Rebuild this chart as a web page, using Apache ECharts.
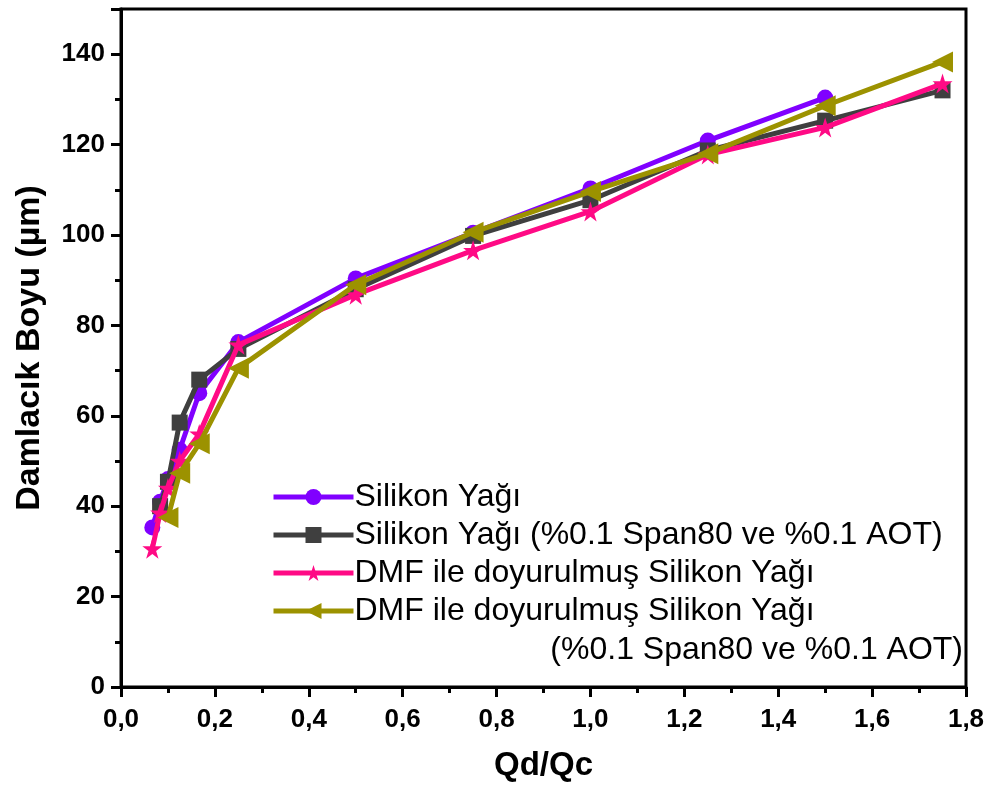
<!DOCTYPE html>
<html>
<head>
<meta charset="utf-8">
<script src="https://cdn.jsdelivr.net/npm/echarts@6/dist/echarts.min.js"></script>
<style>
html,body{margin:0;padding:0;background:#fff;}
#chart{width:990px;height:787px;}
</style>
</head>
<body>
<div id="chart"></div>
<script>
// ---- data ----
const seriesNames = [
  "Silikon Yağı",
  "Silikon Yağı (%0.1 Span80 ve %0.1 AOT)",
  "DMF ile doyurulmuş Silikon Yağı",
  "DMF ile doyurulmuş Silikon Yağı (%0.1 Span80 ve %0.1 AOT)"
];
const xSilikon = [0.0667, 0.0833, 0.1, 0.125, 0.1667, 0.25, 0.5, 0.75, 1.0, 1.25, 1.5];
const ySilikon = [35.3, 41, 46, 52.5, 65, 76.3, 90.4, 100.5, 110.3, 120.9, 130.4];
const xSilikonAOT = [0.0833, 0.1, 0.125, 0.1667, 0.25, 0.5, 0.75, 1.0, 1.25, 1.5, 1.75];
const ySilikonAOT = [40, 45.4, 58.5, 68, 74.8, 88, 99.8, 107.7, 118.7, 125.3, 132];
const xDMF = [0.0667, 0.0833, 0.1, 0.125, 0.1667, 0.25, 0.5, 0.75, 1.0, 1.25, 1.5, 1.75];
const yDMF = [30.6, 38.5, 44, 50, 56, 75.7, 86.8, 96.6, 105.2, 117.8, 123.8, 133.5];
const xDMFAOT = [0.1, 0.125, 0.1667, 0.25, 0.5, 0.75, 1.0, 1.25, 1.5, 1.75];
const yDMFAOT = [37.5, 47.3, 53.8, 70.5, 89, 100.6, 109.6, 118, 128.6, 138.3];
const xTicks = [0, 0.2, 0.4, 0.6, 0.8, 1.0, 1.2, 1.4, 1.6, 1.8];
const yTicks = [0, 20, 40, 60, 80, 100, 120, 140];

const colors = ["#8000FF", "#3F3F3F", "#FF0A85", "#9C9200"];
const starPath = "path://M50,0 L61.8,36.3 L100,36.3 L69.1,58.8 L80.9,95.1 L50,72.7 L19.1,95.1 L30.9,58.8 L0,36.3 L38.2,36.3 Z";

function pairs(xs, ys){ return xs.map((x,i)=>[x, ys[i]]); }

const FONT = "'Liberation Sans', Arial, sans-serif";
const chart = echarts.init(document.getElementById('chart'), null, {renderer:'canvas'});
const option = {
  animation: false,
  backgroundColor: '#fff',
  grid: {left: 121, top: 9, width: 845, height: 679, show: true, borderColor: '#000', borderWidth: 3, containLabel: false},
  xAxis: {
    type: 'value', min: 0, max: 1.8, interval: 0.2,
    name: 'Qd/Qc', nameLocation: 'middle', nameGap: 62,
    nameTextStyle: {fontFamily: FONT, fontWeight: 'bold', fontSize: 33, color: '#000'},
    axisLine: {show: true, lineStyle: {color: '#000', width: 3}},
    axisTick: {show: true, inside: false, length: 10, lineStyle: {color: '#000', width: 3}},
    minorTick: {show: true, splitNumber: 2, length: 6, lineStyle: {color: '#000', width: 3}},
    splitLine: {show: false},
    axisLabel: {margin: 20, fontFamily: FONT, fontWeight: 'bold', fontSize: 26, color: '#000',
      formatter: v => xTicks.some(t => Math.abs(t - v) < 1e-9) ? v.toFixed(1).replace('.', ',') : ''}
  },
  yAxis: {
    type: 'value', min: 0, max: 150, interval: 20,
    name: 'Damlacık Boyu (µm)', nameLocation: 'middle', nameGap: 74, nameRotate: 90,
    nameTextStyle: {fontFamily: FONT, fontWeight: 'bold', fontSize: 34, color: '#000'},
    axisLine: {show: true, lineStyle: {color: '#000', width: 3}},
    axisTick: {show: true, inside: false, length: 10, lineStyle: {color: '#000', width: 3}},
    minorTick: {show: true, splitNumber: 2, length: 6, lineStyle: {color: '#000', width: 3}},
    splitLine: {show: false},
    axisLabel: {margin: 16, showMaxLabel: false, fontFamily: FONT, fontWeight: 'bold', fontSize: 26, color: '#000',
      formatter: v => yTicks.indexOf(v) >= 0 ? String(v) : ''}
  },
  legend: {
    orient: 'vertical', left: 266, top: 476, itemWidth: 80, itemHeight: 20, itemGap: 6,
    lineStyle: {width: 5},
    textStyle: {fontFamily: FONT, fontSize: 32, color: '#000', padding: [0,0,0,-4]},
    formatter: name => name === seriesNames[3] ? "DMF ile doyurulmuş Silikon Yağı" : name,
    data: seriesNames
  },
  graphic: [{
    type: 'text', right: 27, top: 634,
    style: {text: '(%0.1 Span80 ve %0.1 AOT)', fontFamily: FONT, fontSize: 32, fill: '#000'}
  }],
  series: [
    {name: seriesNames[0], type: 'line', data: pairs(xSilikon, ySilikon), symbol: 'circle', symbolSize: 16,
      lineStyle: {width: 5, color: colors[0]}, itemStyle: {color: colors[0]}, z: 2},
    {name: seriesNames[1], type: 'line', data: pairs(xSilikonAOT, ySilikonAOT), symbol: 'rect', symbolSize: 16,
      lineStyle: {width: 5, color: colors[1]}, itemStyle: {color: colors[1]}, z: 3},
    {name: seriesNames[2], type: 'line', data: pairs(xDMF, yDMF), symbol: starPath, symbolSize: 20,
      lineStyle: {width: 5, color: colors[2]}, itemStyle: {color: colors[2]}, z: 4},
    {name: seriesNames[3], type: 'line', data: pairs(xDMFAOT, yDMFAOT), symbol: 'triangle', symbolRotate: 90, symbolSize: 21,
      lineStyle: {width: 5, color: colors[3]}, itemStyle: {color: colors[3]}, z: 5}
  ]
};
chart.setOption(option);
</script>
</body>
</html>
